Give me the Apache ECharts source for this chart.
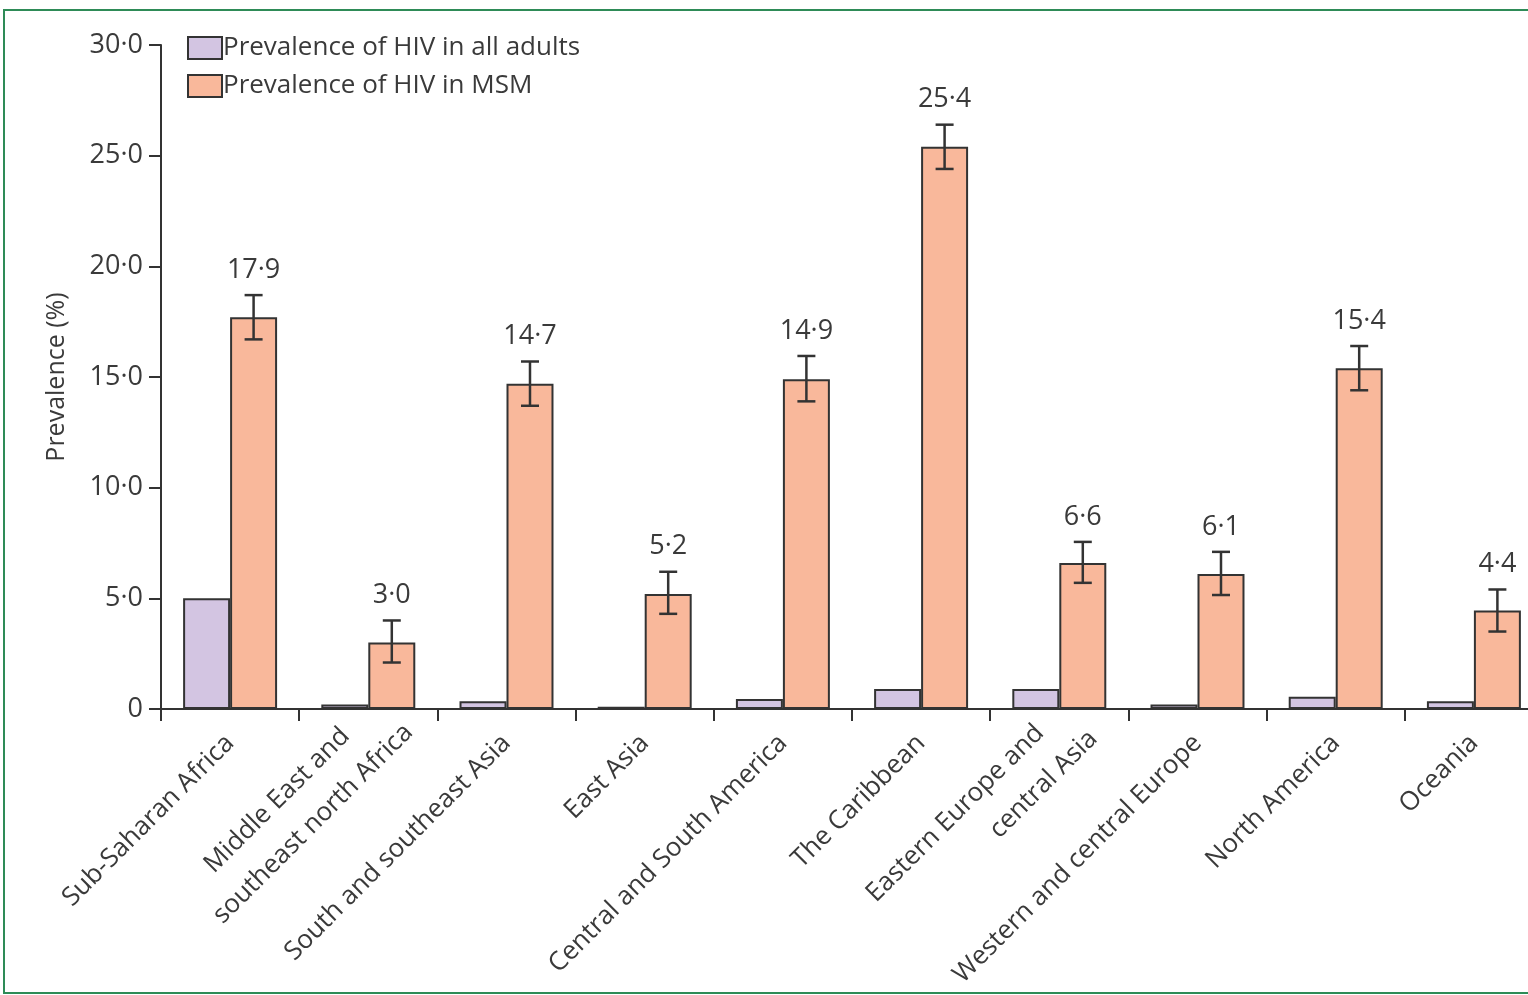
<!DOCTYPE html>
<html>
<head>
<meta charset="utf-8">
<script src="https://cdn.jsdelivr.net/npm/echarts@6/dist/echarts.min.js"></script>
<style>
  html, body { margin: 0; padding: 0; background: #fff; }
  #main { width: 1528px; height: 995px; }
</style>
</head>
<body>
<div id="main"></div>
<script>
// regions on the x axis
const regions = [
  "Sub-Saharan Africa",
  "Middle East and       \nsoutheast north Africa",
  "South and southeast Asia",
  "East Asia",
  "Central and South America",
  "The Caribbean",
  "Eastern Europe and     \ncentral Asia",
  "Western and central Europe",
  "North America",
  "Oceania",
];
// prevalence in all adults (%)
const allAdults = [5.0, 0.2, 0.35, 0.1, 0.45, 0.9, 0.9, 0.2, 0.55, 0.35];
// prevalence in MSM (%), bar heights as drawn
const msm = [17.7, 3.0, 14.7, 5.2, 14.9, 25.4, 6.6, 6.1, 15.4, 4.45];
// error bar limits
const msmLow = [16.7, 2.1, 13.7, 4.3, 13.9, 24.4, 5.7, 5.15, 14.4, 3.5];
const msmHigh = [18.7, 4.0, 15.7, 6.2, 15.95, 26.4, 7.55, 7.1, 16.4, 5.4];
// printed value labels
const msmLabels = ["17·9", "3·0", "14·7", "5·2", "14·9", "25·4", "6·6", "6·1", "15·4", "4·4"];

const FONT = '"Open Sans", sans-serif';
const TXT = "#3a3a3a";

const chart = echarts.init(document.getElementById("main"), null, { renderer: "canvas" });

const errData = regions.map((r, i) => [i, msmLow[i], msmHigh[i]]);

// two-line labels sit a bit further out along the text
const xData = regions.map((r, i) => {
  if (i === 1) return { value: r, textStyle: { padding: [27, -36, 0, 0] } };
  if (i === 6) return { value: r, textStyle: { padding: [55, -27, 0, 0] } };
  return r;
});

const option = {
  backgroundColor: "#fff",
  animation: false,
  graphic: [
    {
      type: "rect",
      shape: { x: 4, y: 10, width: 1540, height: 983 },
      style: { fill: "none", stroke: "#2e8b57", lineWidth: 2 },
      silent: true,
    },
  ],
  legend: {
    orient: "vertical",
    left: 182,
    top: 30,
    itemWidth: 34,
    itemHeight: 22,
    itemGap: 12,
    icon: "rect",
    textStyle: { fontFamily: FONT, fontSize: 26, color: TXT, padding: [0, 0, 0, -4] },
    data: ["Prevalence of HIV in all adults", "Prevalence of HIV in MSM"],
  },
  grid: { left: 161, right: -15, top: 45, bottom: 286, outerBoundsMode: "none" },
  xAxis: {
    type: "category",
    data: xData,
    boundaryGap: true,
    axisLine: { lineStyle: { color: "#333", width: 2 } },
    axisTick: { show: true, length: 12, lineStyle: { color: "#333", width: 2 } },
    axisLabel: {
      interval: 0,
      rotate: 45,
      margin: 30,
      padding: [22, 0, 0, 0],
      fontFamily: FONT,
      fontSize: 26,
      color: TXT,
      lineHeight: 42,
    },
  },
  yAxis: {
    type: "value",
    min: 0,
    max: 30,
    interval: 5,
    name: "Prevalence (%)",
    nameLocation: "middle",
    nameGap: 92,
    nameTextStyle: { fontFamily: FONT, fontSize: 25, color: TXT },
    axisLine: { show: true, lineStyle: { color: "#333", width: 2 } },
    axisTick: { show: true, length: 12, lineStyle: { color: "#333", width: 2 } },
    splitLine: { show: false },
    axisLabel: {
      margin: 18,
      fontFamily: FONT,
      fontSize: 27,
      color: TXT,
      formatter: (v) => (v === 0 ? "0" : v.toFixed(1).replace(".", "·")),
    },
  },
  series: [
    {
      name: "Prevalence of HIV in all adults",
      type: "bar",
      data: allAdults,
      barWidth: "34%",
      barGap: "0%",
      itemStyle: { color: "#d3c5e2", borderColor: "#333", borderWidth: 2 },
    },
    {
      name: "Prevalence of HIV in MSM",
      type: "bar",
      data: msm,
      barWidth: "34%",
      barGap: "0%",
      itemStyle: { color: "#f9b89b", borderColor: "#333", borderWidth: 2 },
    },
    {
      type: "custom",
      name: "err",
      data: errData,
      z: 10,
      renderItem: function (params, api) {
        const idx = api.value(0);
        const hi = api.coord([idx, api.value(2)]);
        const lo = api.coord([idx, api.value(1)]);
        const band = api.size([1, 0])[0];
        const x = hi[0] + band * 0.17;
        const cap = 9;
        const st = { stroke: "#333", lineWidth: 2.5 };
        return {
          type: "group",
          children: [
            { type: "line", shape: { x1: x, y1: hi[1], x2: x, y2: lo[1] }, style: st },
            { type: "line", shape: { x1: x - cap, y1: hi[1], x2: x + cap, y2: hi[1] }, style: st },
            { type: "line", shape: { x1: x - cap, y1: lo[1], x2: x + cap, y2: lo[1] }, style: st },
            {
              type: "text",
              x: x,
              y: hi[1] - 25,
              style: {
                text: msmLabels[idx],
                fontFamily: FONT,
                fontSize: 27,
                fill: TXT,
                align: "center",
                verticalAlign: "middle",
              },
            },
          ],
        };
      },
    },
  ],
};

chart.setOption(option);
</script>
</body>
</html>
